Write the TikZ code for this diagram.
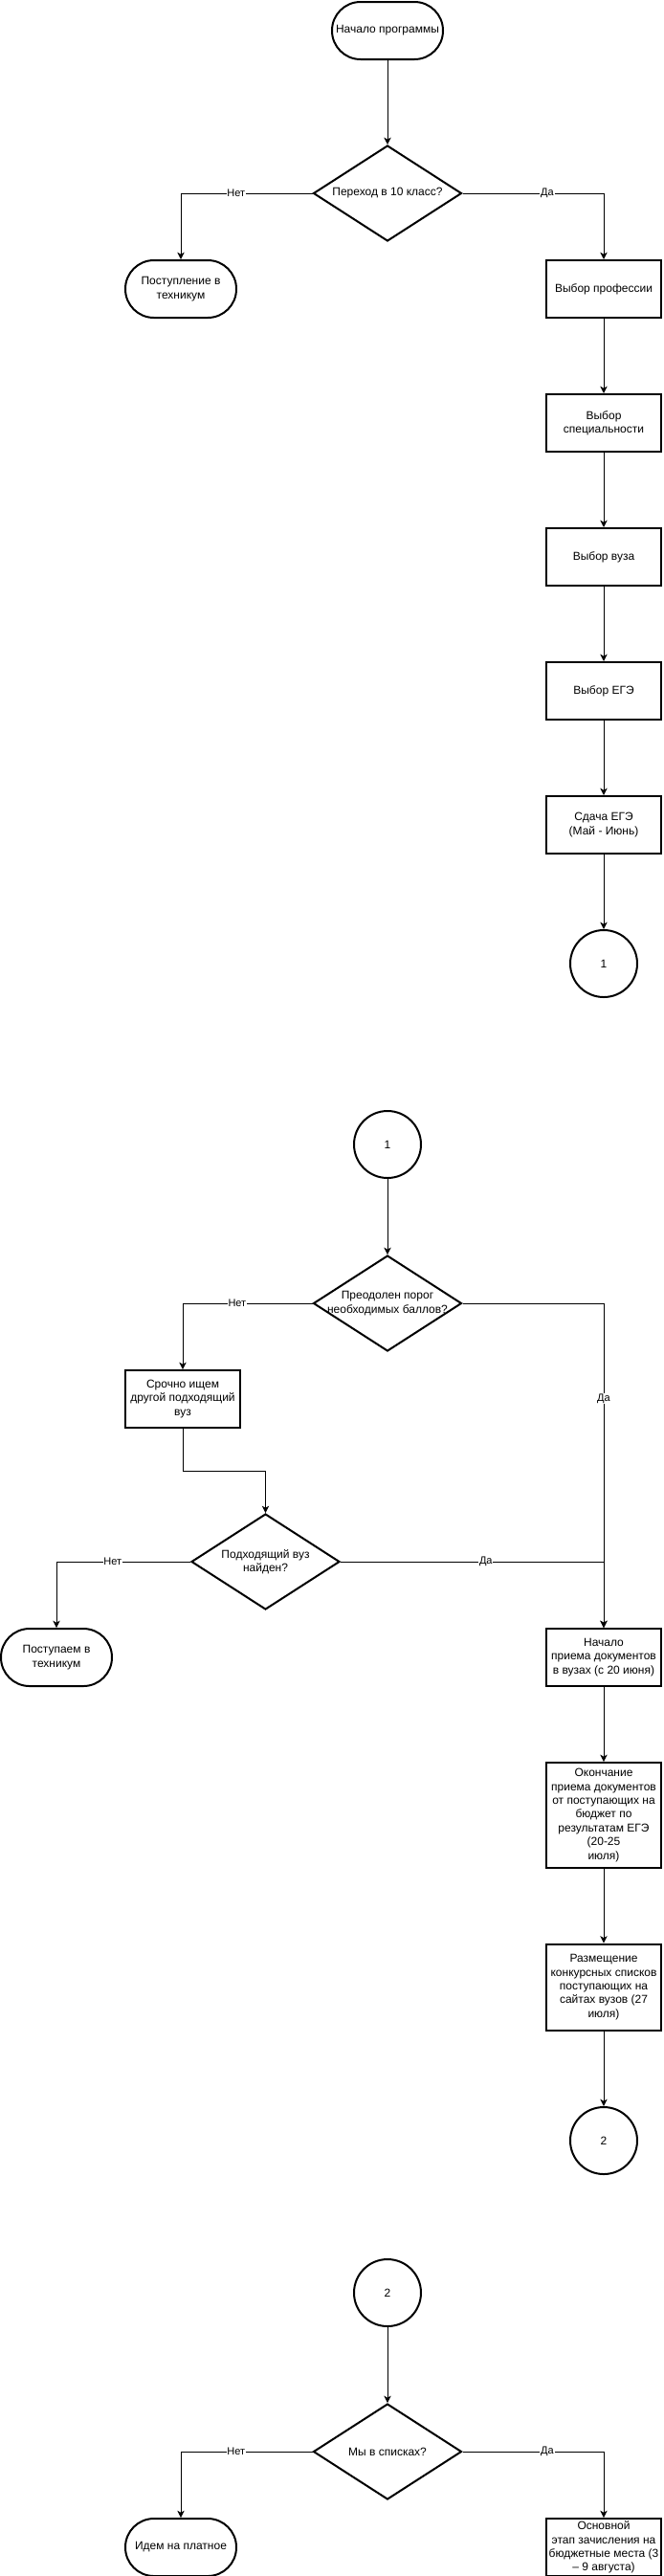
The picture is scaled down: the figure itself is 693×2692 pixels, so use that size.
\documentclass[tikz,border=0pt]{standalone}
\usepackage{fontspec}
\setmainfont{Liberation Sans}
\usetikzlibrary{shapes.geometric,arrows.meta,calc}
\tikzset{
  nfont/.style={font=\fontsize{9}{10.8}\selectfont},
  term/.style={draw, rectangle, line width=1.5pt, rounded corners=22.4pt, minimum width=87pt, minimum height=45pt, inner sep=1pt, align=center, nfont},
  proc/.style={draw, rectangle, line width=1.5pt, minimum width=90pt, minimum height=45pt, inner sep=1pt, align=center, nfont},
  dec/.style={draw, diamond, line width=1.5pt, minimum width=116.25pt, minimum height=75pt, inner sep=0pt},
  dtext/.style={align=center, inner sep=0pt, nfont},
  conn/.style={draw, circle, line width=1.5pt, minimum size=52.5pt, inner sep=0pt, nfont},
  arr/.style={line width=0.75pt, -{Stealth[length=5.5pt,width=5.5pt,inset=1.5pt]}},
  elab/.style={fill=white, inner sep=0.6pt, font=\fontsize{8.25}{9.9}\selectfont}
}
\begin{document}
\begin{tikzpicture}[x=0.75pt,y=-0.75pt]
\useasboundingbox (0,0) rectangle (693,2692);
% ---- part 1
\node[term] (start) at (405,32) {Начало программы};
\node[dec, label={[dtext]center:Переход в 10 класс?}] (d1) at (405,202) {};
\node[term] (tech1) at (189,302) {Поступление в\\техникум};
\node[proc] (prof) at (631,302) {Выбор профессии};
\node[proc] (spec) at (631,442) {Выбор\\специальности};
\node[proc] (vuz) at (631,582) {Выбор вуза};
\node[proc] (ege) at (631,722) {Выбор ЕГЭ};
\node[proc] (sdacha) at (631,862) {Сдача ЕГЭ\\(Май - Июнь)};
\node[conn] (c1a) at (631,1007) {1};
\draw[arr] (start) -- (d1);
\draw[arr] (d1.west) -| node[elab, pos=0.29] {Нет} (tech1.north);
\draw[arr] (d1.east) -| node[elab, pos=0.3] {Да} (prof.north);
\draw[arr] (prof) -- (spec);
\draw[arr] (spec) -- (vuz);
\draw[arr] (vuz) -- (ege);
\draw[arr] (ege) -- (sdacha);
\draw[arr] (sdacha) -- (c1a);
% ---- part 2
\node[conn] (c1b) at (405,1196) {1};
\node[dec, label={[dtext]center:{Преодолен порог\\необходимых баллов?}}] (d2) at (405,1362) {};
\node[proc] (srochno) at (191,1462) {Срочно ищем\\другой подходящий\\вуз};
\node[dec, label={[dtext]center:{Подходящий вуз\\найден?}}] (d3) at (277.5,1632) {};
\node[term] (tech2) at (59,1732) {Поступаем в\\техникум};
\node[proc] (nach) at (631,1732) {Начало\\приема документов\\в вузах (с 20 июня)};
\node[proc, minimum height=82.5pt] (okon) at (631,1897) {Окончание\\приема документов\\от поступающих на\\бюджет по\\результатам ЕГЭ\\(20-25\\июля)};
\node[proc, minimum height=67.5pt] (razm) at (631,2076.5) {Размещение\\конкурсных списков\\поступающих на\\сайтах вузов (27\\июля)};
\node[conn] (c2a) at (631,2237) {2};
\draw[arr] (c1b) -- (d2);
\draw[arr] (d2.west) -| node[elab, pos=0.29] {Нет} (srochno.north);
\draw[arr] (d2.east) -| node[elab, pos=0.647] {Да} (nach.north);
\draw[arr] (srochno.south) |- ($(srochno.south)!0.5!(d3.north)$) -| (d3.north);
\draw[arr] (d3.west) -| node[elab, pos=0.29] {Нет} (tech2.north);
\draw[arr] (d3.east) -| node[elab, pos=0.276] {Да} (nach.north);
\draw[arr] (nach) -- (okon);
\draw[arr] (okon) -- (razm);
\draw[arr] (razm) -- (c2a);
% ---- part 3
\node[conn] (c2b) at (405,2396) {2};
\node[dec, label={[dtext]center:Мы в списках?}] (d4) at (405,2562) {};
\node[term] (plat) at (189,2662) {Идем на платное};
\node[proc] (osn) at (631,2662) {Основной\\этап зачисления на\\бюджетные места (3\\– 9 августа)};
\draw[arr] (c2b) -- (d4);
\draw[arr] (d4.west) -| node[elab, pos=0.29] {Нет} (plat.north);
\draw[arr] (d4.east) -| node[elab, pos=0.3] {Да} (osn.north);
\end{tikzpicture}
\end{document}
